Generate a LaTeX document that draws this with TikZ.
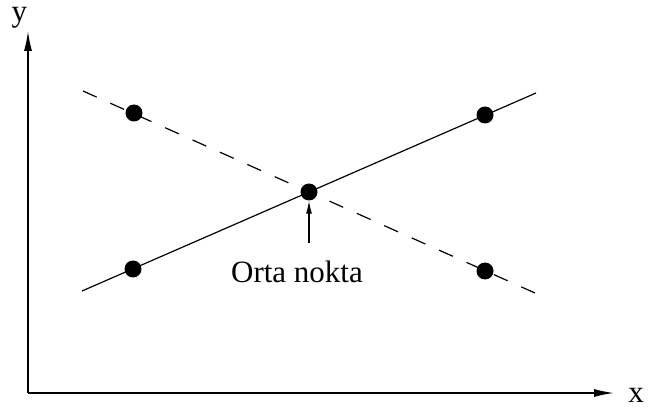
\documentclass[tikz,border=0pt]{standalone}
\usepackage{fontspec}
\setmainfont{Liberation Serif}
\usetikzlibrary{arrows.meta}
\begin{document}
\begin{tikzpicture}[x=1pt,y=-1pt,
  dot/.style={circle,fill=black,inner sep=0pt,minimum size=17pt},
  axis/.style={line width=1.4pt,-{Latex[length=20pt,width=8pt]}},
  solidline/.style={line width=1.2pt},
  dashline/.style={line width=1.2pt,dash pattern=on 15pt off 15pt},
  label/.style={font=\fontsize{31}{37}\selectfont,inner sep=0pt,anchor=base},
  pointer/.style={line width=1.2pt,-{Latex[length=13pt,width=6pt]}}]
\useasboundingbox (0,0) rectangle (648,414);
% axes
\coordinate (o) at (28,393);
\coordinate (ytip) at (28,31);
\coordinate (xtip) at (614,393);
\draw[axis] (o) -- (ytip);
\draw[axis] (o) -- (xtip);
\node[label,text height=14pt] (ylab) at (19.5,22) {y};
\node[label] (xlab) at (636,402) {x};
% lines
\coordinate (s1) at (82,291);
\coordinate (s2) at (536,93);
\coordinate (d1) at (83,91);
\coordinate (d2) at (535,293);
\draw[solidline] (s1) -- (s2);
\draw[dashline] (d1) -- (d2);
% dots
\node[dot] (a) at (133,269) {};
\node[dot] (b) at (485,115) {};
\node[dot] (c) at (134,113) {};
\node[dot] (d) at (485,271) {};
\node[dot] (m) at (309,192) {};
% pointer
\coordinate (p) at (309,243);
\draw[pointer] (p) -- (m.south);
\node[label] (txt) at (297,283) {Orta nokta};
\end{tikzpicture}
\end{document}
